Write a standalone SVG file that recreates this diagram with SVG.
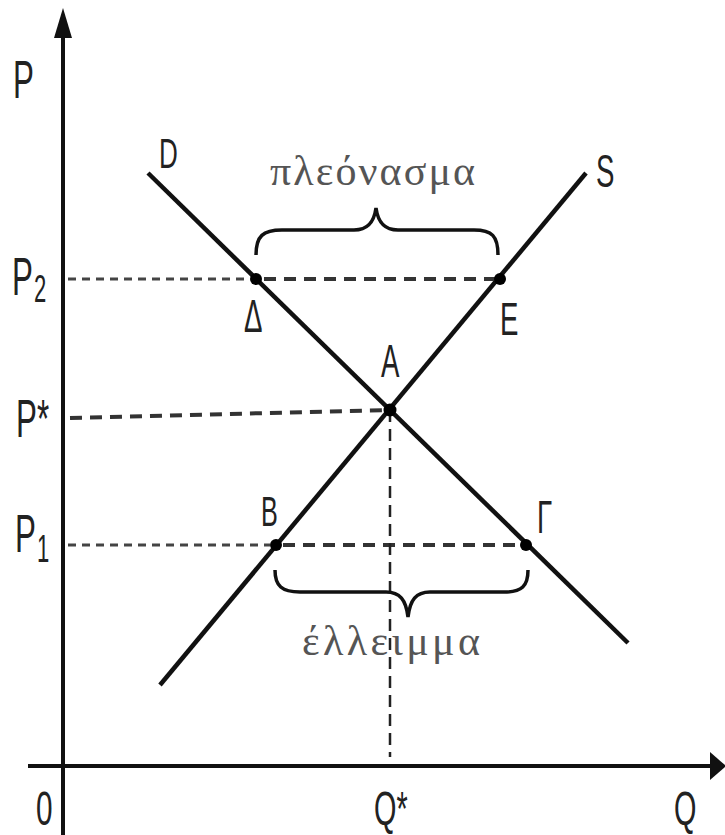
<svg xmlns="http://www.w3.org/2000/svg" width="725" height="835" viewBox="0 0 725 835">
  <style>
    .lbl { font-family: "Liberation Sans", Arial, sans-serif; fill: #222; }
    .gr { font-family: "Liberation Serif", "DejaVu Serif", serif; fill: #555; font-size: 42px; }
    .axis { stroke: #111; stroke-width: 4; fill: none; }
    .curve { stroke: #111; stroke-width: 4.5; fill: none; }
    .dsmall { stroke: #444; stroke-width: 3; stroke-dasharray: 8 6; fill: none; }
    .dbig { stroke: #333; stroke-width: 4; stroke-dasharray: 12 8; fill: none; }
    .dvert { stroke: #222; stroke-width: 2.5; stroke-dasharray: 12 7; fill: none; }
    .brace { stroke: #111; stroke-width: 3.5; fill: none; }
    .pt { fill: #000; }
  </style>
  <rect width="725" height="835" fill="#fff"/>

  <g id="axes">
    <line class="axis" x1="63" y1="835" x2="63" y2="34"/>
    <polygon points="63,8 54,38 72,38" fill="#111"/>
    <line class="axis" x1="28" y1="766" x2="712" y2="766"/>
    <polygon points="726,766 710,752 710,780" fill="#111"/>
    <text class="lbl" font-size="54" transform="translate(13,98) scale(0.58,1)">P</text>
    <text class="lbl" font-size="48" transform="translate(36,825) scale(0.62,1)">0</text>
    <text class="lbl" font-size="48" transform="translate(674,825) scale(0.6,1)">Q</text>
  </g>

  <g id="connectors">
    <line class="curve" x1="148" y1="173" x2="628" y2="643"/>
    <line class="curve" x1="160" y1="685" x2="586" y2="173"/>
    <line class="dsmall" x1="68" y1="279" x2="250" y2="279"/>
    <line class="dbig" x1="264" y1="279" x2="500" y2="279"/>
    <line class="dbig" x1="70" y1="418" x2="388" y2="410"/>
    <line class="dsmall" x1="68" y1="545" x2="270" y2="545"/>
    <line class="dbig" x1="283" y1="545" x2="526" y2="545"/>
    <line class="dvert" x1="390" y1="410" x2="390" y2="757"/>
  </g>

  <g id="curve-D">
    <text class="lbl" font-size="42" transform="translate(159,168) scale(0.62,1)">D</text>
  </g>
  <g id="curve-S">
    <text class="lbl" font-size="46" transform="translate(596,187) scale(0.6,1)">S</text>
  </g>

  <g id="price-P2">
    <text class="lbl" font-size="54" transform="translate(12,295) scale(0.58,1)">P</text>
    <text class="lbl" font-size="38" transform="translate(34,302) scale(0.58,1)">2</text>
  </g>
  <g id="price-Pstar">
    <text class="lbl" font-size="54" transform="translate(16,437) scale(0.58,1)">P*</text>
  </g>
  <g id="price-P1">
    <text class="lbl" font-size="54" transform="translate(15,552) scale(0.58,1)">P</text>
    <text class="lbl" font-size="38" transform="translate(37,562) scale(0.58,1)">1</text>
  </g>
  <g id="qty-Qstar">
    <text class="lbl" font-size="48" transform="translate(374,825) scale(0.6,1)">Q*</text>
  </g>

  <g id="point-Delta">
    <circle class="pt" cx="256" cy="279" r="6"/>
    <text class="lbl" font-size="46" transform="translate(244,332) scale(0.6,1)">Δ</text>
  </g>
  <g id="point-E">
    <circle class="pt" cx="500" cy="279" r="6"/>
    <text class="lbl" font-size="46" transform="translate(500,335) scale(0.6,1)">Ε</text>
  </g>
  <g id="point-A">
    <circle class="pt" cx="390" cy="410" r="6.5"/>
    <text class="lbl" font-size="46" transform="translate(381,377) scale(0.6,1)">A</text>
  </g>
  <g id="point-B">
    <circle class="pt" cx="276" cy="545" r="6"/>
    <text class="lbl" font-size="42" transform="translate(261,526) scale(0.6,1)">B</text>
  </g>
  <g id="point-Gamma">
    <circle class="pt" cx="526" cy="545" r="6"/>
    <text class="lbl" font-size="46" transform="translate(537,533) scale(0.6,1)">Γ</text>
  </g>

  <g id="surplus">
    <path class="brace" d="M256,255 C256,236 263,230 282,230 L354,230 C368,230 374,222 376,208 C378,222 384,230 398,230 L474,230 C492,230 498,236 498,255"/>
    <text class="gr" x="270" y="185" textLength="205" lengthAdjust="spacing">πλεόνασμα</text>
  </g>

  <g id="shortage">
    <path class="brace" d="M275,570 C275,586 282,592 300,592 L386,592 C400,592 406,600 408,617 C410,600 416,592 430,592 L504,592 C522,592 528,586 528,570"/>
    <text class="gr" x="302" y="655" textLength="178" lengthAdjust="spacing">έλλειμμα</text>
  </g>
</svg>
